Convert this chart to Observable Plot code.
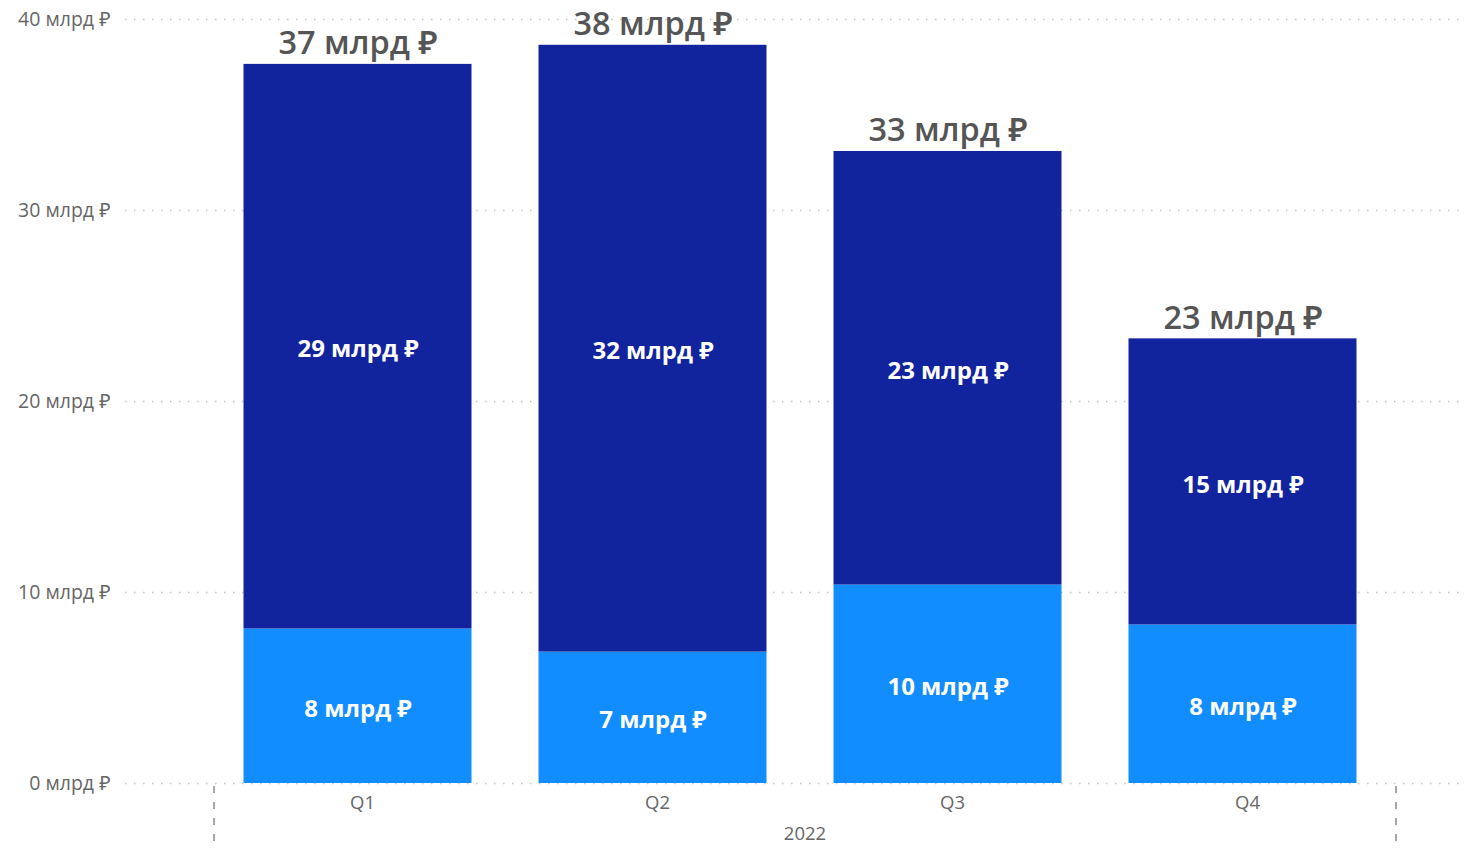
<!DOCTYPE html>
<html>
<head>
<meta charset="utf-8">
<script src="https://cdn.jsdelivr.net/npm/d3@7"></script>
<script src="https://cdn.jsdelivr.net/npm/@observablehq/plot@0.6"></script>
<style>
  html, body { margin: 0; padding: 0; background: #fff; }
  #chart { width: 1471px; height: 849px; overflow: hidden; }
</style>
</head>
<body>
<div id="chart"></div>
<script>
const quarters = ["Q1", "Q2", "Q3", "Q4"];
const lightValues = [8.09, 6.88, 10.39, 8.30];
const darkValues = [29.56, 31.77, 22.70, 14.98];
const lightLabels = [8, 7, 10, 8];
const darkLabels = [29, 32, 23, 15];
const totalLabels = [37, 38, 33, 23];
const yTicks = [0, 10, 20, 30, 40];
const yearLabel = "2022";
const seriesNames = ["light", "dark"];
const seriesColors = ["#118DFF", "#12239E"];

const fmt = v => `${v} млрд ₽`;

const rows = quarters.flatMap((q, i) => [
  {q, series: "light", value: lightValues[i], label: lightLabels[i]},
  {q, series: "dark", value: darkValues[i], label: darkLabels[i]}
]);
const totals = quarters.map((q, i) => ({q, total: lightValues[i] + darkValues[i], label: totalLabels[i]}));

const yearMark = (index, scales, values, dims) => {
  const [r0, r1] = scales.x.range();
  const g = d3.create("svg:g");
  const y0 = dims.height - dims.marginBottom + 3;
  for (const x of [r0, r1]) {
    g.append("line")
      .attr("x1", x).attr("x2", x)
      .attr("y1", y0).attr("y2", dims.height + 4)
      .attr("stroke", "#8a8a8a").attr("stroke-width", 1.5)
      .attr("stroke-dasharray", "7,9");
  }
  g.append("text")
    .attr("x", (r0 + r1) / 2).attr("y", dims.height - 9)
    .attr("text-anchor", "middle").attr("fill", "#666")
    .attr("font-size", 18.5).text(yearLabel);
  return g.node();
};

const chart = Plot.plot({
  width: 1471,
  height: 849,
  marginLeft: 125,
  marginRight: 6,
  marginTop: 19,
  marginBottom: 66,
  insetLeft: 89,
  insetRight: 69,
  style: {fontFamily: "'Open Sans', 'Noto Sans', sans-serif", background: "#fff"},
  x: {domain: quarters, paddingInner: 0.227, paddingOuter: 0.1135},
  y: {domain: [0, 40]},
  color: {domain: seriesNames, range: seriesColors},
  marks: [
    Plot.ruleY(yTicks, {y: d => d, stroke: "#c4c4c4", strokeWidth: 1.5, strokeDasharray: "1.5,7.5"}),
    Plot.axisY({ticks: yTicks, tickSize: 0, tickPadding: 15, tickFormat: fmt, fontSize: 19.5, color: "#666", label: null}),
    Plot.axisX({tickSize: 0, tickPadding: 12, fontSize: 18.5, color: "#666", label: null}),
    Plot.barY(rows, {x: "q", y: "value", fill: "series", dx: -4.5}),
    Plot.text(rows, Plot.stackY({x: "q", y: "value", text: d => fmt(d.label), fill: "white", fontWeight: "bold", fontSize: 24, dx: -4.5, dy: 3})),
    Plot.text(totals, {x: "q", y: "total", text: d => fmt(d.label), lineAnchor: "bottom", dy: -10, fontSize: 32.5, fontWeight: 600, fill: "#555", dx: -4.5}),
    yearMark
  ]
});
document.getElementById("chart").append(chart);
</script>
</body>
</html>
